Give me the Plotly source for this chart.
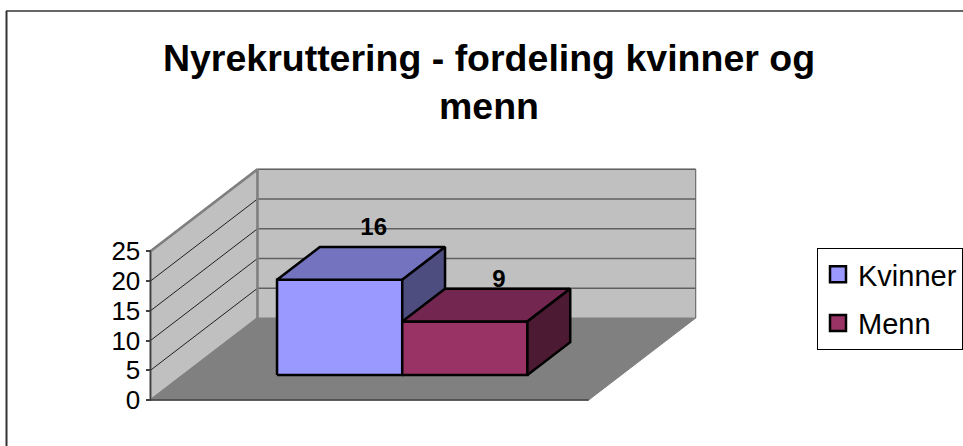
import plotly.graph_objects as go

TITLE = "<b>Nyrekruttering - fordeling kvinner og<br>menn</b>"
SERIES = ["Kvinner", "Menn"]
VALUES = [16, 9]
TICKS = [0, 5, 10, 15, 20, 25]

FRONT = ["#9999FF", "#993366"]
TOP = ["#7373BF", "#732650"]
SIDE = ["#4D4D80", "#4D1A33"]
WALL, FLOOR = "#C0C0C0", "#808080"
FONT = "Liberation Sans, Arial, sans-serif"

W, H = 963, 446
X0_PX, Y0_PX = 150.5, 400
UX, UY = 125.2, 5.95            # pixels per bar width / per value unit
AXIS_MAX = TICKS[-1]
FLOOR_W = 3.5                   # two bars + 150 % gap
DX, DY = 107 / UX, 82 / UY      # oblique offset of the full depth
D0, D1 = 0.305, 0.705           # bar depth span, fraction of the floor
GAP = 0.75


def pt(x, v, d):
    """Oblique projection of (x, value, depth) to the plot's data space."""
    return x + DX * d, v + DY * d


def poly(pts, fill, line="black", width=2.5):
    xs, ys = zip(*(pt(*p) for p in pts + pts[:1]))
    return go.Scatter(x=xs, y=ys, mode="lines", fill="toself", fillcolor=fill,
                      line=dict(color=line, width=width), showlegend=False,
                      hoverinfo="skip")


def seg(a, b, color, width):
    xs, ys = zip(pt(*a), pt(*b))
    return go.Scatter(x=xs, y=ys, mode="lines", line=dict(color=color, width=width),
                      showlegend=False, hoverinfo="skip")


fig = go.Figure()

# walls and floor
fig.add_trace(poly([(0, 0, 0), (0, AXIS_MAX, 0), (0, AXIS_MAX, 1), (0, 0, 1)], WALL, FLOOR, 2))
fig.add_trace(poly([(0, 0, 1), (0, AXIS_MAX, 1), (FLOOR_W, AXIS_MAX, 1), (FLOOR_W, 0, 1)], WALL, WALL, 1))
fig.add_trace(poly([(0, 0, 0), (0, 0, 1), (FLOOR_W, 0, 1), (FLOOR_W, 0, 0)], FLOOR, FLOOR, 1))
for t in TICKS[1:-1]:
    fig.add_trace(seg((0, t, 0), (0, t, 1), "#202020", 1))
    fig.add_trace(seg((0, t, 1), (FLOOR_W, t, 1), "#606060", 1.5))
fig.add_trace(seg((0, AXIS_MAX, 1), (FLOOR_W, AXIS_MAX, 1), "#606060", 1.5))
fig.add_trace(seg((FLOOR_W, 0, 1), (FLOOR_W, AXIS_MAX, 1), "#606060", 1))
fig.add_trace(seg((0, 0, 1), (0, AXIS_MAX, 1), FLOOR, 2.5))
fig.add_trace(seg((0, AXIS_MAX, 0), (0, AXIS_MAX, 1), FLOOR, 2.5))
fig.add_trace(seg((0, 0, 0), (FLOOR_W, 0, 0), "#404040", 1.5))
fig.add_trace(seg((0, 0, 0), (0, AXIS_MAX, 0), "#404040", 1.5))

# bars
for i, v in enumerate(VALUES):
    a, b = GAP + i, GAP + i + 1
    fig.add_trace(poly([(a, 0, D0), (a, v, D0), (b, v, D0), (b, 0, D0)], FRONT[i]))
    fig.add_trace(poly([(a, v, D0), (a, v, D1), (b, v, D1), (b, v, D0)], TOP[i]))
    fig.add_trace(poly([(b, 0, D0), (b, v, D0), (b, v, D1), (b, 0, D1)], SIDE[i]))

# data labels
for i, v in enumerate(VALUES):
    x, y = pt(GAP + i + 0.5 - 0.07, v, D1)
    fig.add_trace(go.Scatter(x=[x], y=[y - 0.93 + v * 0.249], mode="text", text=[f"<b>{v}</b>"],
                             textposition="middle center",
                             textfont=dict(family=FONT, size=24, color="black"),
                             showlegend=False, hoverinfo="skip"))

# legend entries
for i, s in enumerate(SERIES):
    fig.add_trace(go.Scatter(x=[None], y=[None], mode="markers", name=s, legendgroup=s,
                             marker=dict(symbol="square", size=16, color=FRONT[i],
                                         line=dict(color="black", width=2.5))))

fig.update_layout(
    width=W, height=H, autosize=False,
    margin=dict(l=0, r=0, t=0, b=0, autoexpand=False),
    paper_bgcolor="white", plot_bgcolor="white",
    font=dict(family=FONT, color="black"),
    title=dict(text=TITLE, x=489 / W, xanchor="center", y=1 - 70.5 / H, yanchor="middle",
               font=dict(family=FONT, size=37.5, color="black")),
    xaxis=dict(visible=False, range=[-X0_PX / UX, (W - X0_PX) / UX]),
    yaxis=dict(range=[-(H - Y0_PX) / UY, Y0_PX / UY], anchor="free", position=X0_PX / W,
               tickmode="array", tickvals=TICKS, ticktext=[str(t) for t in TICKS],
               ticks="outside", ticklen=5, tickwidth=1.5, tickcolor="#404040",
               tickfont=dict(family=FONT, size=26, color="black"),
               showgrid=False, zeroline=False, showline=False),
    legend=dict(x=817 / W, y=1 - 248 / H, xanchor="left", yanchor="top",
                bgcolor="white", bordercolor="black", borderwidth=1,
                font=dict(family=FONT, size=29, color="black"),
                itemsizing="trace", tracegroupgap=8, entrywidth=300, entrywidthmode="pixels",
                itemclick=False, itemdoubleclick=False),
    shapes=[
        dict(type="line", xref="paper", yref="paper", x0=6.5 / W, x1=6.5 / W, y0=0, y1=1 - 11 / H,
             line=dict(color="#333333", width=2)),
        dict(type="line", xref="paper", yref="paper", x0=6 / W, x1=1, y0=1 - 11 / H, y1=1 - 11 / H,
             line=dict(color="#333333", width=1.5)),
    ],
    showlegend=True,
    hovermode=False,
)

fig.write_html("out.html", config=dict(displayModeBar=False),
               post_script="document.body.style.margin='0';document.body.style.overflow='hidden';")
